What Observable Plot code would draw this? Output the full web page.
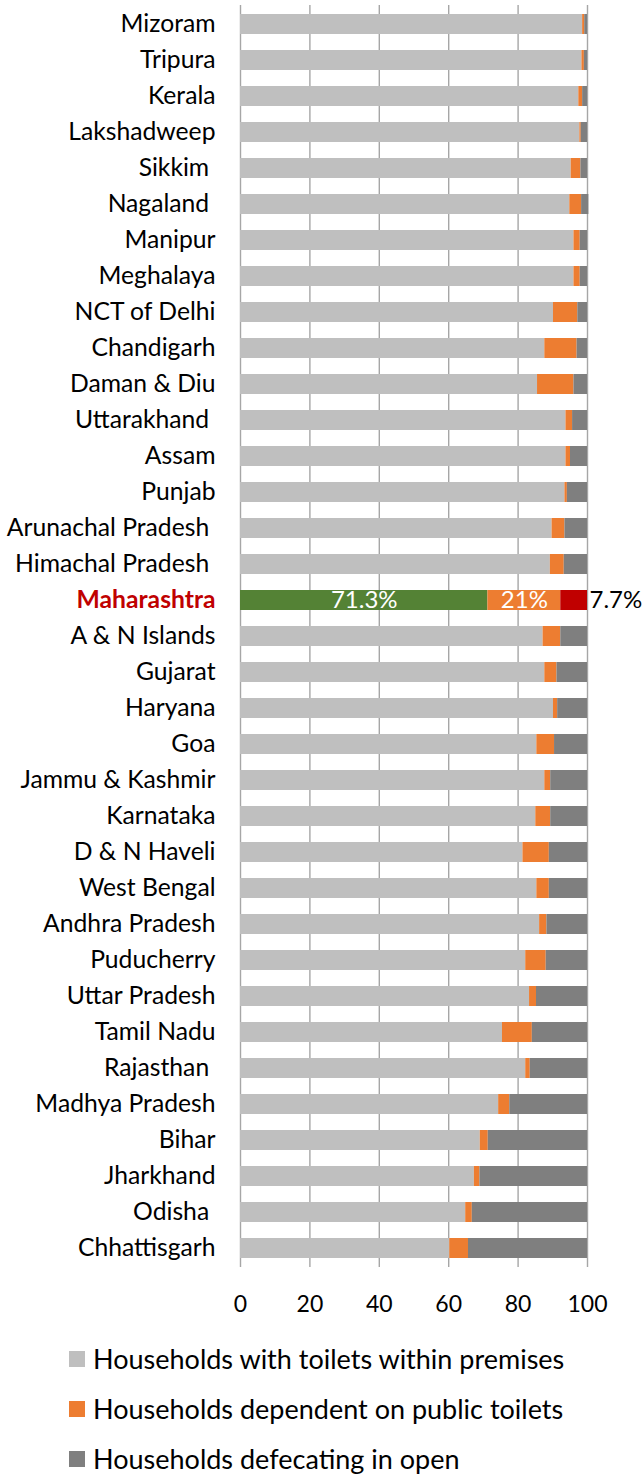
<!DOCTYPE html>
<html>
<head>
<meta charset="utf-8">
<script src="https://cdn.jsdelivr.net/npm/d3@7"></script>
<script src="https://cdn.jsdelivr.net/npm/@observablehq/plot@0.6"></script>
<style>
  body { margin: 0; background: #fff; font-family: Lato, "Open Sans", sans-serif; overflow: hidden; }
  #chart svg text { white-space: pre; }
  #legend { position: relative; }
  .item { position: absolute; left: 69px; display: flex; align-items: center; height: 26px; line-height: 26px; font-size: 27px; color: #000; white-space: nowrap; }
  .sw { width: 16px; height: 16px; margin-right: 8px; flex: none; }
</style>
</head>
<body>
<div id="chart"></div>
<div id="legend"></div>
<script>
const states = ["Mizoram","Tripura","Kerala","Lakshadweep","Sikkim ","Nagaland ","Manipur","Meghalaya","NCT of Delhi","Chandigarh","Daman & Diu","Uttarakhand ","Assam","Punjab","Arunachal Pradesh ","Himachal Pradesh ","Maharashtra","A & N Islands","Gujarat","Haryana","Goa","Jammu & Kashmir","Karnataka","D & N Haveli","West Bengal","Andhra Pradesh","Puducherry","Uttar Pradesh","Tamil Nadu","Rajasthan ","Madhya Pradesh","Bihar","Jharkhand","Odisha ","Chhattisgarh"];
const withinPremises = [98.6,98.4,97.5,97.8,95.3,94.9,96.1,96.1,90.2,87.7,85.6,93.8,93.8,93.5,89.8,89.3,71.3,87.2,87.7,90.2,85.4,87.7,85.1,81.4,85.4,86.2,82.2,83.3,75.5,82.2,74.4,69.1,67.4,64.9,60.3];
const publicToilets = [0.6,0.7,1.1,0.4,2.8,3.4,1.8,1.8,7.0,9.3,10.5,1.9,1.3,0.7,3.7,4.0,21,5.1,3.5,1.2,5.1,1.7,4.3,7.6,3.6,2.1,5.9,2.0,8.6,1.3,3.2,2.3,1.6,1.9,5.4];
const openDefecation = [0.8,0.9,1.4,1.8,1.9,2.1,2.1,2.1,2.8,3.0,3.9,4.3,4.9,5.8,6.5,6.7,7.7,7.7,8.8,8.6,9.5,10.6,10.6,11.0,11.0,11.7,11.9,14.7,15.9,16.5,22.4,28.6,31.0,33.2,34.3];
const seriesNames = ["Households with toilets within premises","Households dependent on public toilets","Households defecating in open"];
const highlight = "Maharashtra";
const xTicks = [0,20,40,60,80,100];

const colorKeys = ["within","public","open","within-hl","public-hl","open-hl"];
const colorRange = ["#bfbfbf","#ed7d31","#7f7f7f","#548235","#ed7d31","#c00000"];

const rows = [];
const seriesKeys = ["within","public","open"];
const seriesVals = [withinPremises, publicToilets, openDefecation];
states.forEach((s, i) => {
  seriesKeys.forEach((k, j) => {
    rows.push({state: s, series: k, value: seriesVals[j][i], key: s === highlight ? k + "-hl" : k});
  });
});
const hlRows = rows.filter(d => d.state === highlight);
const hlInside = hlRows.filter(d => d.series !== "open");
const hlOutside = [{state: highlight, total: d3.sum(hlRows, d => d.value), value: hlRows.find(d => d.series === "open").value}];

const chart = Plot.plot({
  width: 642,
  height: 1325,
  marginLeft: 240,
  marginRight: 55,
  marginTop: 5,
  marginBottom: 58,
  style: {fontFamily: "Lato, 'Open Sans', sans-serif", fontSize: "24px", color: "#000", background: "#fff", overflow: "visible"},
  x: {domain: [0, 100], axis: null},
  y: {domain: states, paddingInner: 0.44, paddingOuter: 0.22, axis: null},
  color: {domain: colorKeys, range: colorRange},
  marks: [
    Plot.gridX(xTicks, {stroke: "#a6a6a6", strokeOpacity: 1, strokeWidth: 1.4}),
    Plot.barX(rows, Plot.stackX({x: "value", y: "state", fill: "key", z: "series"})),
    Plot.axisX(xTicks, {anchor: "bottom", tickSize: 0, tickPadding: 28, fontSize: 23, fill: "#000"}),
    Plot.text(states.filter(s => s !== highlight), {y: d => d, text: d => d, frameAnchor: "left", textAnchor: "end", dx: -25, fontSize: 24.7, fill: "#000"}),
    Plot.text([highlight], {y: d => d, text: d => d, frameAnchor: "left", textAnchor: "end", dx: -25, fontSize: 24.7, fontWeight: "bold", fill: "#c00000"}),
    Plot.text(hlInside, Plot.stackX({x: "value", y: "state", z: "series", text: d => d.value + "%", fill: "#fff", fontSize: 24})),
    Plot.text(hlOutside, {x: "total", y: "state", text: d => d.value + "%", textAnchor: "start", dx: 2, fill: "#000", fontSize: 24})
  ]
});
document.getElementById("chart").appendChild(chart);

const legend = document.getElementById("legend");
legend.style.height = "151px";
const legendColors = colorRange.slice(0, 3);
const legendCenters = [34, 84, 134];
seriesNames.forEach((name, i) => {
  const item = document.createElement("div");
  item.className = "item";
  item.style.top = (legendCenters[i] - 13) + "px";
  const sw = document.createElement("span");
  sw.className = "sw";
  sw.style.background = legendColors[i];
  const t = document.createElement("span");
  t.textContent = name;
  item.appendChild(sw);
  item.appendChild(t);
  legend.appendChild(item);
});
</script>
</body>
</html>
